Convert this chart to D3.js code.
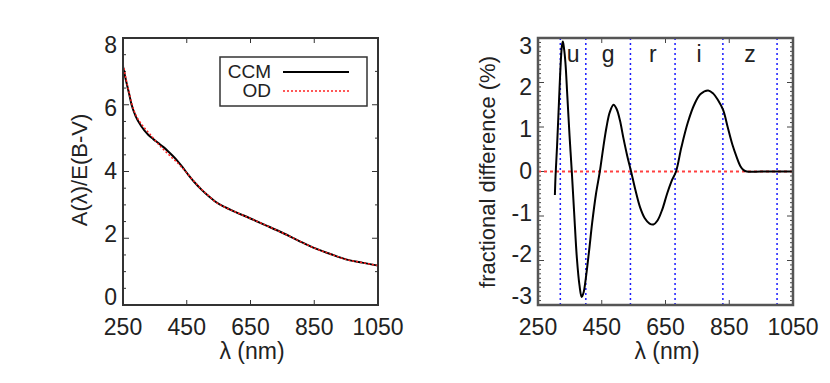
<!DOCTYPE html>
<html>
<head>
<meta charset="utf-8">
<script src="https://cdn.jsdelivr.net/npm/d3@7"></script>
<style>
  body { margin: 0; background: #fff; }
  text { font-family: "Liberation Sans", Arial, sans-serif; fill: #222; }
</style>
</head>
<body>
<div id="chart"></div>
<script>

// left panel: A(lambda)/E(B-V)
const ccmLambda = [250, 260, 268, 277, 290, 308, 329, 345, 361, 377, 392, 405, 418, 435, 455, 475, 497, 520, 539, 570, 600, 648, 700, 753, 800, 847, 900, 952, 1000, 1050];
const ccmValue  = [7.15, 6.7, 6.38, 6.0, 5.65, 5.35, 5.1, 4.97, 4.85, 4.73, 4.6, 4.48, 4.35, 4.15, 3.9, 3.67, 3.45, 3.25, 3.1, 2.93, 2.8, 2.6, 2.38, 2.15, 1.93, 1.72, 1.53, 1.36, 1.27, 1.18];
const odLambda  = [250, 260, 268, 277, 290, 308, 329, 345, 361, 377, 392, 405, 418, 435, 455, 475, 497, 520, 539, 570, 600, 648, 700, 753, 800, 847, 900, 952, 1000, 1050];
const odValue   = [7.22, 6.75, 6.42, 6.05, 5.7, 5.42, 5.18, 5.0, 4.82, 4.66, 4.52, 4.4, 4.29, 4.12, 3.9, 3.68, 3.46, 3.26, 3.1, 2.93, 2.8, 2.6, 2.38, 2.15, 1.93, 1.72, 1.53, 1.36, 1.27, 1.18];

// right panel: fractional difference (%)
const diffLambda = [303, 305, 310, 316, 321, 325, 328, 331, 336, 342, 349, 356, 364, 372, 380, 387, 393, 400, 410, 420, 432, 444, 455, 465, 475, 487, 497, 507, 518, 530, 542, 555, 570, 585, 600, 612, 625, 640, 655, 670, 683, 700, 720, 740, 760, 784, 800, 815, 831, 845, 860, 873, 885, 895, 905, 950, 1000, 1050];
const diffValue  = [-0.53, -0.1, 0.6, 1.6, 2.4, 2.82, 2.92, 2.8, 2.45, 1.7, 0.8, 0, -1.0, -1.95, -2.55, -2.82, -2.72, -2.4, -1.8, -1.15, -0.5, 0, 0.55, 1.0, 1.33, 1.5, 1.4, 1.15, 0.75, 0.35, 0, -0.4, -0.8, -1.05, -1.17, -1.19, -1.1, -0.85, -0.5, -0.2, 0, 0.55, 1.1, 1.5, 1.74, 1.82, 1.75, 1.6, 1.38, 1.0, 0.6, 0.33, 0.12, 0.03, 0, 0, 0, 0];

// filter band edges and names
const bandEdges = [320, 400, 540, 680, 830, 1000];
const bandNames = ["u", "g", "r", "i", "z"];

const xTicks = [250, 450, 650, 850, 1050];
const leftYTicks = [0, 2, 4, 6, 8];
const rightYTicks = [-3, -2, -1, 0, 1, 2, 3];

const width = 830, height = 383;

const svg = d3.select("#chart")
    .append("svg")
    .attr("width", width)
    .attr("height", height)
    .style("background-color", "white");

const plotTop = 38, plotBottom = 305;

// ---------- LEFT PANEL ----------
const xL = d3.scaleLinear().domain([250, 1050]).range([123, 378]);
const yL = d3.scaleLinear().domain([0, 8]).range([plotBottom, plotTop]);
// tick labels sit slightly inside the tick span in the original
const yLabelL = d3.scaleLinear().domain([0, 8]).range([297, 45]);

const lineL = d3.line().curve(d3.curveMonotoneX);

const leftG = svg.append("g");

d3.range(0, 8.01, 0.5).forEach(function(v) {
    const major = v % 2 === 0;
    leftG.append("line")
        .attr("x1", xL(250)).attr("x2", xL(250) + (major ? 6 : 3))
        .attr("y1", yL(v)).attr("y2", yL(v))
        .attr("stroke", "#333").attr("stroke-width", 1);
});
d3.range(0, 8.01, 1).forEach(function(v) {
    const major = v % 2 === 0;
    leftG.append("line")
        .attr("x1", xL(1050)).attr("x2", xL(1050) - (major ? 6 : 3))
        .attr("y1", yL(v)).attr("y2", yL(v))
        .attr("stroke", "#333").attr("stroke-width", 1);
});
xTicks.forEach(function(v) {
    leftG.append("line")
        .attr("x1", xL(v)).attr("x2", xL(v))
        .attr("y1", plotBottom).attr("y2", plotBottom - 5)
        .attr("stroke", "#333");
    leftG.append("line")
        .attr("x1", xL(v)).attr("x2", xL(v))
        .attr("y1", plotTop).attr("y2", plotTop + 5)
        .attr("stroke", "#333");
});

leftG.append("path")
    .datum(d3.zip(ccmLambda, ccmValue))
    .attr("d", lineL.x(d => xL(d[0])).y(d => yL(d[1])))
    .attr("fill", "none")
    .attr("stroke", "black")
    .attr("stroke-width", 2);

leftG.append("path")
    .datum(d3.zip(odLambda, odValue))
    .attr("d", lineL.x(d => xL(d[0])).y(d => yL(d[1])))
    .attr("fill", "none")
    .attr("stroke", "#ff2020")
    .attr("stroke-width", 1.5)
    .attr("stroke-dasharray", "2,2");

leftG.append("rect")
    .attr("x", xL(250)).attr("y", plotTop)
    .attr("width", xL(1050) - xL(250)).attr("height", plotBottom - plotTop)
    .attr("fill", "none").attr("stroke", "#333").attr("stroke-width", 2);

// legend
leftG.append("rect")
    .attr("x", 220).attr("y", 57).attr("width", 147).attr("height", 49)
    .attr("fill", "white").attr("stroke", "#333").attr("stroke-width", 1.5);
leftG.append("text").attr("x", 271).attr("y", 78).attr("text-anchor", "end")
    .style("font-size", "19px").text("CCM");
leftG.append("text").attr("x", 271).attr("y", 97).attr("text-anchor", "end")
    .style("font-size", "19px").text("OD");
leftG.append("line").attr("x1", 283).attr("x2", 349).attr("y1", 72).attr("y2", 72)
    .attr("stroke", "black").attr("stroke-width", 2);
leftG.append("line").attr("x1", 283).attr("x2", 349).attr("y1", 91).attr("y2", 91)
    .attr("stroke", "#ff2020").attr("stroke-width", 1.5).attr("stroke-dasharray", "2,2");

// tick labels
leftG.selectAll(".xl").data(xTicks).enter().append("text")
    .attr("x", d => xL(d)).attr("y", 335).attr("text-anchor", "middle")
    .style("font-size", "23px").text(d => d);
leftG.selectAll(".yl").data(leftYTicks).enter().append("text")
    .attr("x", 117).attr("y", d => yLabelL(d) + 8).attr("text-anchor", "end")
    .style("font-size", "23px").text(d => d);

leftG.append("text").attr("x", 252).attr("y", 359).attr("text-anchor", "middle")
    .style("font-size", "23px").text("λ (nm)");
leftG.append("text").attr("transform", "translate(87,170) rotate(-90)")
    .attr("text-anchor", "middle").style("font-size", "22px").text("A(λ)/E(B-V)");

// ---------- RIGHT PANEL ----------
const xR = d3.scaleLinear().domain([250, 1050]).range([538, 793]);
const yR = d3.scaleLinear().domain([-3, 3]).range([plotBottom, plotTop]);
const yLabelR = d3.scaleLinear().domain([-3, 3]).range([296, 45.5]);

const rightG = svg.append("g");

d3.range(-30, 31, 1).forEach(function(i) {
    const v = i / 10;
    const major = i % 10 === 0;
    rightG.append("line")
        .attr("x1", xR(250)).attr("x2", xR(250) + (major ? 6 : 3))
        .attr("y1", yR(v)).attr("y2", yR(v))
        .attr("stroke", "#444").attr("stroke-width", 1);
    rightG.append("line")
        .attr("x1", xR(1050)).attr("x2", xR(1050) - (major ? 6 : 3))
        .attr("y1", yR(v)).attr("y2", yR(v))
        .attr("stroke", "#444").attr("stroke-width", 1);
});
xTicks.forEach(function(v) {
    rightG.append("line")
        .attr("x1", xR(v)).attr("x2", xR(v))
        .attr("y1", plotBottom).attr("y2", plotBottom - 5).attr("stroke", "#444");
    rightG.append("line")
        .attr("x1", xR(v)).attr("x2", xR(v))
        .attr("y1", plotTop).attr("y2", plotTop + 5).attr("stroke", "#444");
});

// band edges
rightG.selectAll(".band").data(bandEdges).enter().append("line")
    .attr("x1", d => xR(d)).attr("x2", d => xR(d))
    .attr("y1", plotTop).attr("y2", plotBottom)
    .attr("stroke", "#1a1aff").attr("stroke-width", 1.5)
    .attr("stroke-dasharray", "2,3");

// zero line (OD)
rightG.append("line")
    .attr("x1", xR(250)).attr("x2", xR(1050))
    .attr("y1", yR(0)).attr("y2", yR(0))
    .attr("stroke", "#ff4040").attr("stroke-width", 2.2)
    .attr("stroke-dasharray", "3,3");

rightG.append("path")
    .datum(d3.zip(diffLambda, diffValue))
    .attr("d", d3.line().curve(d3.curveCatmullRom.alpha(0.5)).x(d => xR(d[0])).y(d => yR(d[1])))
    .attr("fill", "none")
    .attr("stroke", "black")
    .attr("stroke-width", 2);

rightG.append("rect")
    .attr("x", xR(250)).attr("y", plotTop)
    .attr("width", xR(1050) - xR(250)).attr("height", plotBottom - plotTop)
    .attr("fill", "none").attr("stroke", "#555").attr("stroke-width", 2.5);

rightG.selectAll(".bn").data(bandNames).enter().append("text")
    .attr("x", (d, i) => (xR(bandEdges[i]) + xR(bandEdges[i + 1])) / 2)
    .attr("y", 62).attr("text-anchor", "middle")
    .style("font-size", "23px").text(d => d);

rightG.selectAll(".xr").data(xTicks).enter().append("text")
    .attr("x", d => xR(d)).attr("y", 335).attr("text-anchor", "middle")
    .style("font-size", "23px").text(d => d);
rightG.selectAll(".yr").data(rightYTicks).enter().append("text")
    .attr("x", 532).attr("y", d => yLabelR(d) + 8).attr("text-anchor", "end")
    .style("font-size", "23px").text(d => d);

rightG.append("text").attr("x", 667).attr("y", 359).attr("text-anchor", "middle")
    .style("font-size", "23px").text("λ (nm)");
rightG.append("text").attr("transform", "translate(495,172) rotate(-90)")
    .attr("text-anchor", "middle").style("font-size", "22px").text("fractional difference (%)");

</script>
</body>
</html>
